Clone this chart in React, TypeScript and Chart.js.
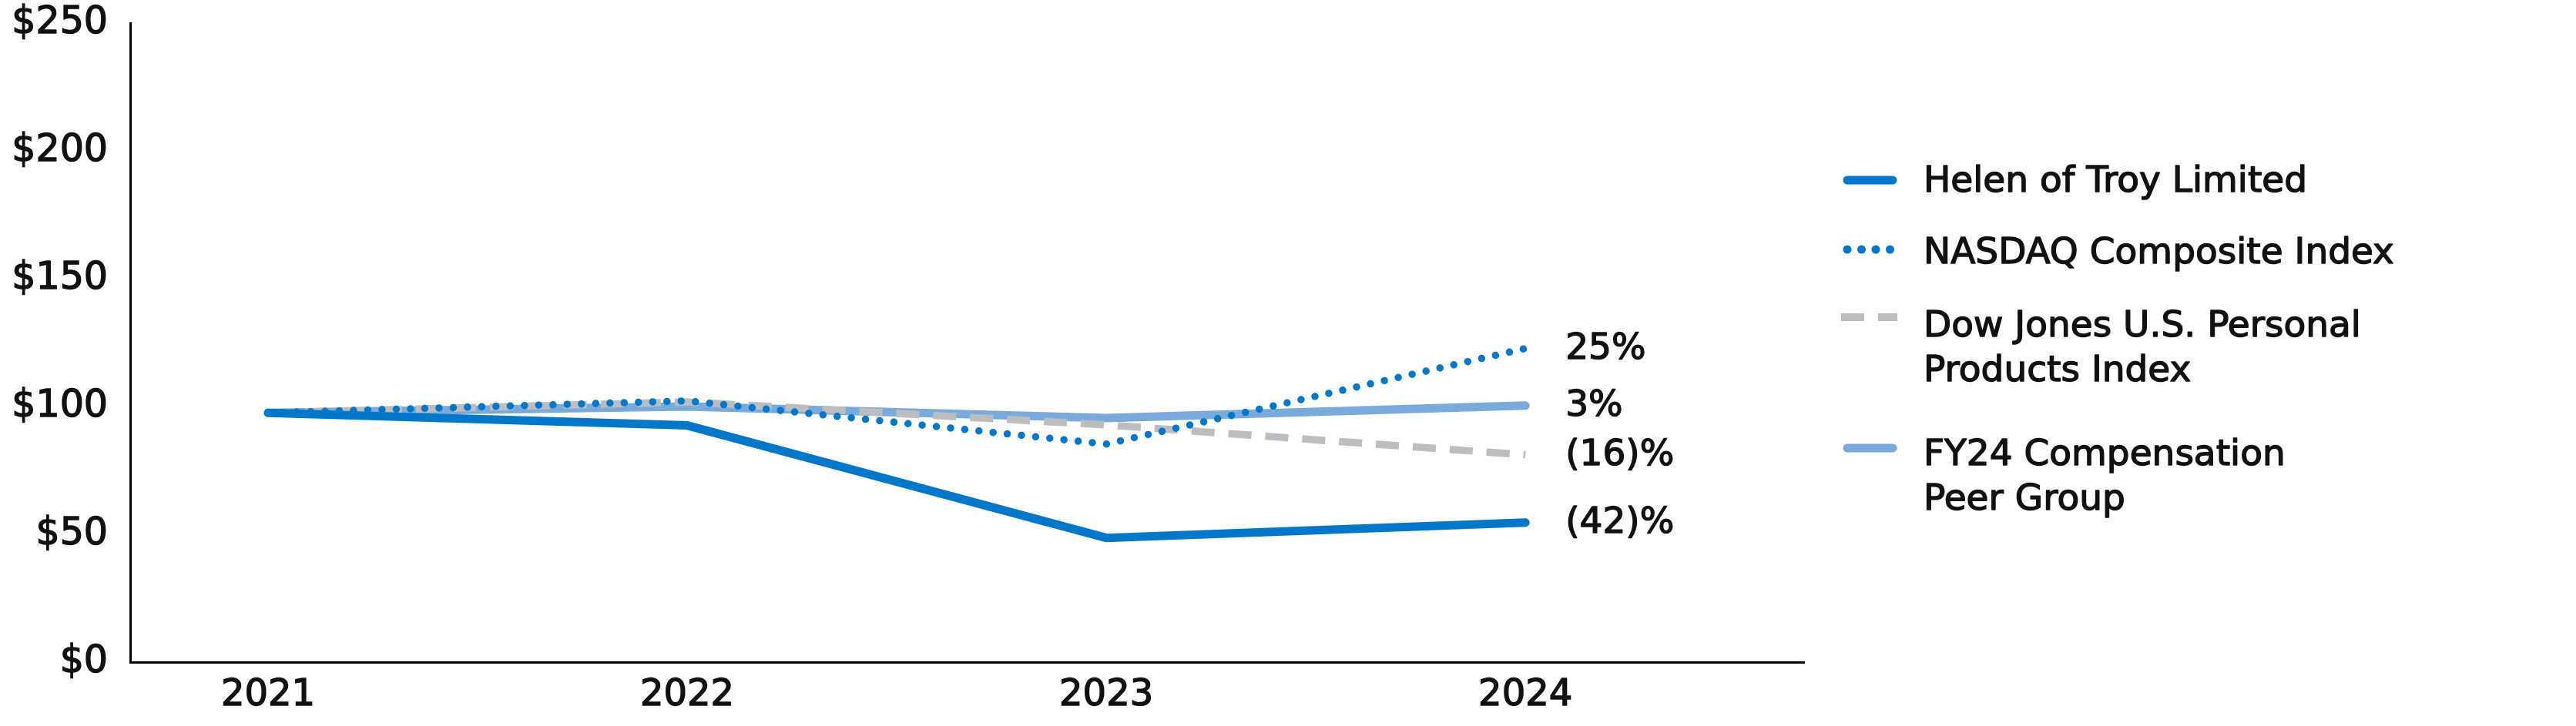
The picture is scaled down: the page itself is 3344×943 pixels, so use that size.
import React, { useEffect, useRef } from 'react';
import { Chart, registerables } from 'chart.js';

Chart.register(...registerables);

// ---- data ----
const years = [2021, 2022, 2023, 2024];
const helenValues = [97.5, 92.6, 48.6, 54.6];
const nasdaqValues = [97.5, 102.2, 85.3, 122.7];
const dowJonesValues = [97.5, 101.8, 92.8, 81.1];
const peerGroupValues = [97.5, 100.0, 95.5, 100.4];
const endLabels = ['(42)%', '25%', '(16)%', '3%'];
const seriesNames = [
  ['Helen of Troy Limited'],
  ['NASDAQ Composite Index'],
  ['Dow Jones U.S. Personal', 'Products Index'],
  ['FY24 Compensation', 'Peer Group'],
];
const yTickValues = [0, 50, 100, 150, 200, 250];

const FONT = '"DejaVu Sans", sans-serif';
const TEXT = '#111111';
const BLUE = '#0077C8';
const LIGHT_BLUE = '#7AAADC';
const GRAY = '#BCBDC0';
const TEXT_STROKE = 1.4;

function drawText(ctx: CanvasRenderingContext2D, s: string, x: number, y: number) {
  ctx.fillText(s, x, y);
  ctx.strokeText(s, x, y);
}

const endLabelPlugin = {
  id: 'endLabels',
  afterDatasetsDraw(chart: any) {
    const ctx = chart.ctx;
    ctx.save();
    ctx.font = `47px ${FONT}`;
    ctx.fillStyle = TEXT;
    ctx.strokeStyle = TEXT;
    ctx.lineWidth = TEXT_STROKE;
    ctx.lineJoin = 'round';
    ctx.textBaseline = 'middle';
    ctx.textAlign = 'left';
    chart.data.datasets.forEach((_ds: any, i: number) => {
      const meta = chart.getDatasetMeta(i);
      const pt = meta.data[meta.data.length - 1];
      drawText(ctx, endLabels[i], pt.x + 52, pt.y + 1);
    });
    ctx.restore();
  },
};

const legendPlugin = {
  id: 'sideLegend',
  afterDraw(chart: any) {
    const ctx = chart.ctx;
    const x0 = chart.chartArea.right + 51;
    const textX = x0 + 104;
    const rows = [
      { sampleY: 234, textY: 237 },
      { sampleY: 324, textY: 330 },
      { sampleY: 412, textY: 425 },
      { sampleY: 582, textY: 592 },
    ];
    const lineH = 58;
    ctx.save();
    chart.data.datasets.forEach((ds: any, i: number) => {
      const r = rows[i];
      ctx.save();
      ctx.strokeStyle = ds.borderColor;
      ctx.lineCap = ds.borderCapStyle || 'butt';
      ctx.setLineDash(ds.borderDash || []);
      ctx.beginPath();
      if (i === 1) {
        ctx.lineWidth = 11;
        ctx.moveTo(x0 + 5, r.sampleY);
        ctx.lineTo(x0 + 64, r.sampleY);
      } else if (i === 2) {
        ctx.lineWidth = 10;
        ctx.moveTo(x0 - 3, r.sampleY);
        ctx.lineTo(x0 + 70, r.sampleY);
      } else {
        ctx.lineWidth = 11;
        ctx.moveTo(x0 + 5, r.sampleY);
        ctx.lineTo(x0 + 64, r.sampleY);
      }
      ctx.stroke();
      ctx.restore();

      ctx.save();
      ctx.font = `47px ${FONT}`;
      ctx.fillStyle = TEXT;
      ctx.strokeStyle = TEXT;
      ctx.lineWidth = TEXT_STROKE;
      ctx.lineJoin = 'round';
      ctx.textBaseline = 'middle';
      ctx.textAlign = 'left';
      seriesNames[i].forEach((line, j) => {
        drawText(ctx, line, textX, r.textY + j * lineH);
      });
      ctx.restore();
    });
    ctx.restore();
  },
};

export default function App() {
  const canvasRef = useRef<HTMLCanvasElement | null>(null);

  useEffect(() => {
    document.body.style.margin = '0';
    const canvas = canvasRef.current;
    if (!canvas) return;
    const toPoints = (vals: number[]) => vals.map((v, i) => ({ x: years[i], y: v }));

    const chart = new Chart(canvas, {
      type: 'line',
      data: {
        datasets: [
          {
            label: seriesNames[0].join(' '),
            data: toPoints(helenValues),
            borderColor: BLUE,
            borderWidth: 11,
            borderCapStyle: 'round',
            borderJoinStyle: 'miter',
            pointRadius: 0,
            tension: 0,
            order: 1,
          },
          {
            label: seriesNames[1].join(' '),
            data: toPoints(nasdaqValues),
            borderColor: BLUE,
            borderWidth: 9.5,
            borderDash: [0, 18.5],
            borderCapStyle: 'round',
            pointRadius: 0,
            tension: 0,
            order: 0,
          },
          {
            label: seriesNames[2].join(' '),
            data: toPoints(dowJonesValues),
            borderColor: GRAY,
            borderWidth: 9.5,
            borderDash: [30, 18],
            borderCapStyle: 'butt',
            pointRadius: 0,
            tension: 0,
            order: 2,
          },
          {
            label: seriesNames[3].join(' '),
            data: toPoints(peerGroupValues),
            borderColor: LIGHT_BLUE,
            borderWidth: 11,
            borderCapStyle: 'round',
            pointRadius: 0,
            tension: 0,
            order: 3,
          },
        ],
      },
      options: {
        responsive: false,
        maintainAspectRatio: false,
        animation: false,
        devicePixelRatio: 1,
        layout: { padding: { top: 30, right: 1002, bottom: 0, left: 0 } },
        plugins: {
          legend: { display: false },
          tooltip: { enabled: false },
        },
        scales: {
          x: {
            type: 'linear',
            min: 2020.671,
            max: 2024.665,
            grid: { display: false, drawTicks: false },
            border: { display: true, color: '#000', width: 3 },
            afterBuildTicks: (scale: any) => {
              scale.ticks = years.map((y) => ({ value: y }));
            },
            afterFit: (scale: any) => {
              scale.height = 83;
              scale.paddingLeft = 0;
              scale.paddingRight = 0;
            },
            ticks: {
              padding: 15,
              color: TEXT,
              textStrokeColor: TEXT,
              textStrokeWidth: TEXT_STROKE,
              font: { family: FONT, size: 48 },
              maxRotation: 0,
              autoSkip: false,
              callback: (v: any) => String(v),
            },
          },
          y: {
            type: 'linear',
            min: 0,
            max: 250,
            grid: { display: false, drawTicks: false },
            border: { display: true, color: '#000', width: 3 },
            afterBuildTicks: (scale: any) => {
              scale.ticks = yTickValues.map((v) => ({ value: v }));
            },
            afterFit: (scale: any) => {
              scale.width = 169;
              scale.paddingTop = 0;
              scale.paddingBottom = 0;
            },
            ticks: {
              padding: 29,
              color: TEXT,
              textStrokeColor: TEXT,
              textStrokeWidth: TEXT_STROKE,
              font: { family: FONT, size: 49 },
              callback: (v: any) => '$' + v,
            },
          },
        },
      },
      plugins: [endLabelPlugin, legendPlugin],
    } as any);

    return () => chart.destroy();
  }, []);

  return (
    <div style={{ position: 'fixed', left: 0, top: 0, width: 3344, height: 943, background: '#fff' }}>
      <canvas ref={canvasRef} width={3344} height={943} style={{ width: 3344, height: 943, display: 'block' }} />
    </div>
  );
}
